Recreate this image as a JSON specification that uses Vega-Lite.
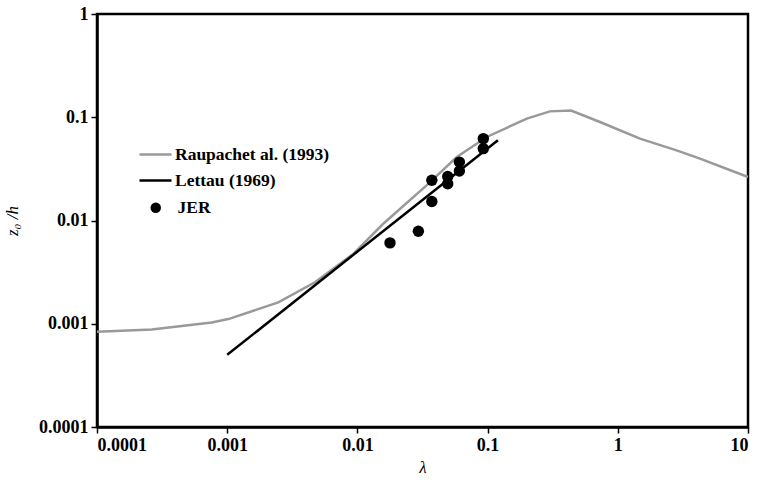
{
  "$schema": "https://vega.github.io/schema/vega-lite/v6.json",
  "width": 651,
  "height": 413,
  "autosize": "none",
  "padding": {"left": 97, "top": 14, "right": 9, "bottom": 53},
  "background": "white",
  "view": {"stroke": "#000", "strokeWidth": 2.5, "fill": "white"},
  "config": {
    "view": {"stroke": "#000", "strokeWidth": 2.5},
    "axis": {
      "grid": false,
      "domain": true,
      "domainColor": "#000",
      "domainWidth": 2.5,
      "tickColor": "#000",
      "tickWidth": 1.5,
      "tickSize": 6,
      "labelFont": "Liberation Serif",
      "labelFontWeight": "bold",
      "labelFontSize": 18,
      "labelColor": "#000",
      "labelPadding": 3,
      "titleFont": "Liberation Serif",
      "titleFontStyle": "italic",
      "titleFontWeight": "normal",
      "titleFontSize": 17,
      "titleColor": "#000"
    },
    "legend": {
      "labelFont": "Liberation Serif",
      "labelFontWeight": "bold",
      "labelFontSize": 17.5,
      "labelColor": "#000",
      "padding": 0,
      "title": null
    }
  },
  "data": {
    "values": [
      {"series": "Raupachet al. (1993)", "lambda": 0.0001, "z": 0.000836},
      {"series": "Raupachet al. (1993)", "lambda": 0.000263, "z": 0.00088},
      {"series": "Raupachet al. (1993)", "lambda": 0.00076, "z": 0.00103},
      {"series": "Raupachet al. (1993)", "lambda": 0.00102, "z": 0.00111},
      {"series": "Raupachet al. (1993)", "lambda": 0.00247, "z": 0.00161},
      {"series": "Raupachet al. (1993)", "lambda": 0.00472, "z": 0.00252},
      {"series": "Raupachet al. (1993)", "lambda": 0.0093, "z": 0.00475},
      {"series": "Raupachet al. (1993)", "lambda": 0.0158, "z": 0.0093},
      {"series": "Raupachet al. (1993)", "lambda": 0.034, "z": 0.0219},
      {"series": "Raupachet al. (1993)", "lambda": 0.058, "z": 0.0412},
      {"series": "Raupachet al. (1993)", "lambda": 0.0985, "z": 0.0644},
      {"series": "Raupachet al. (1993)", "lambda": 0.2, "z": 0.097},
      {"series": "Raupachet al. (1993)", "lambda": 0.301, "z": 0.114},
      {"series": "Raupachet al. (1993)", "lambda": 0.438, "z": 0.116},
      {"series": "Raupachet al. (1993)", "lambda": 0.73, "z": 0.09},
      {"series": "Raupachet al. (1993)", "lambda": 1.48, "z": 0.062},
      {"series": "Raupachet al. (1993)", "lambda": 2.83, "z": 0.0478},
      {"series": "Raupachet al. (1993)", "lambda": 4.28, "z": 0.0397},
      {"series": "Raupachet al. (1993)", "lambda": 10, "z": 0.0264},
      {"series": "Lettau (1969)", "lambda": 0.001, "z": 0.0005},
      {"series": "Lettau (1969)", "lambda": 0.12, "z": 0.06},
      {"series": "JER", "lambda": 0.0178, "z": 0.00607},
      {"series": "JER", "lambda": 0.0294, "z": 0.00787},
      {"series": "JER", "lambda": 0.0373, "z": 0.0153},
      {"series": "JER", "lambda": 0.0373, "z": 0.0245},
      {"series": "JER", "lambda": 0.0494, "z": 0.0227},
      {"series": "JER", "lambda": 0.0494, "z": 0.0267},
      {"series": "JER", "lambda": 0.0607, "z": 0.0301},
      {"series": "JER", "lambda": 0.0607, "z": 0.0368},
      {"series": "JER", "lambda": 0.0927, "z": 0.0497},
      {"series": "JER", "lambda": 0.0927, "z": 0.0621}
    ]
  },
  "encoding": {
    "x": {
      "field": "lambda",
      "type": "quantitative",
      "scale": {"type": "log", "domain": [0.0001, 10], "nice": false},
      "axis": {"values": [0.0001, 0.001, 0.01, 0.1, 1, 10], "format": "~g", "title": "λ", "titlePadding": 5}
    },
    "y": {
      "field": "z",
      "type": "quantitative",
      "scale": {"type": "log", "domain": [0.0001, 1], "nice": false},
      "axis": {"values": [0.0001, 0.001, 0.01, 0.1, 1], "format": "~g", "title": "z₀ /h", "titleX": -76}
    }
  },
  "layer": [
    {
      "transform": [{"filter": "datum.series !== 'JER'"}],
      "mark": {"type": "line", "strokeWidth": 2.5},
      "encoding": {
        "color": {
          "field": "series",
          "type": "nominal",
          "scale": {"domain": ["Raupachet al. (1993)", "Lettau (1969)"], "range": ["#999999", "#000000"]},
          "legend": {
            "orient": "none",
            "legendX": 41,
            "legendY": 123,
            "symbolType": "stroke",
            "symbolSize": 1024,
            "symbolStrokeWidth": 2.5,
            "labelOffset": 2,
            "rowPadding": -5
          }
        }
      }
    },
    {
      "transform": [{"filter": "datum.series === 'JER'"}],
      "mark": {"type": "point", "filled": true, "color": "#000", "size": 130, "opacity": 1},
      "encoding": {
        "shape": {
          "field": "series",
          "type": "nominal",
          "scale": {"domain": ["JER"], "range": ["circle"]},
          "legend": {
            "orient": "none",
            "legendX": 50,
            "legendY": 185,
            "symbolSize": 110,
            "symbolFillColor": "#000",
            "symbolStrokeColor": "#000",
            "symbolOpacity": 1,
            "labelOffset": 13
          }
        }
      }
    }
  ]
}
